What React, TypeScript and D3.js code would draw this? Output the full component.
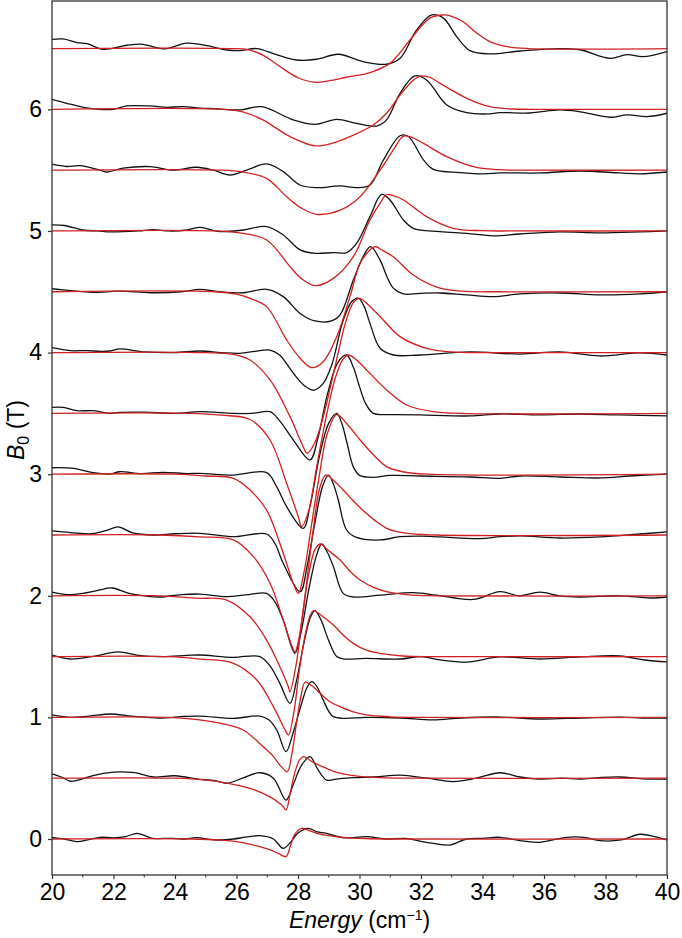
import React, { useEffect, useRef } from 'react'
import * as d3 from 'd3'

// magnetic field of each trace (T), also the vertical offset
const fields = [0, 0.5, 1, 1.5, 2, 2.5, 3, 3.5, 4, 4.5, 5, 5.5, 6, 6.5]

const xTicks = [20, 22, 24, 26, 28, 30, 32, 34, 36, 38, 40]
const yTicks = [0, 1, 2, 3, 4, 5, 6]

// fitted curves (red): [energy, deviation from offset]
const red0 = [[20, 0], [24.5, 0], [25.5, -0.01], [26.2, -0.03], [26.76, -0.063], [27.1, -0.09], [27.36, -0.118], [27.61, -0.145], [27.75, -0.06], [27.9, 0.04], [28.12, 0.088], [28.4, 0.065], [28.61, 0.047], [29.0, 0.028], [29.47, 0.014], [30.2, 0.004], [31, 0], [40, 0]]
const red05 = [[20, 0], [24, 0], [25, -0.015], [25.7, -0.04], [26.44, -0.084], [27.09, -0.153], [27.47, -0.22], [27.61, -0.26], [27.75, -0.12], [27.9, 0.05], [28.05, 0.15], [28.17, 0.177], [28.5, 0.13], [28.93, 0.08], [29.3, 0.045], [29.69, 0.026], [30.5, 0.006], [31.5, 0], [40, 0]]
const red1 = [[20, 0], [23.8, 0], [24.8, -0.02], [25.6, -0.055], [26.22, -0.104], [26.87, -0.241], [27.2, -0.32], [27.41, -0.392], [27.65, -0.446], [27.8, -0.3], [27.95, -0.05], [28.1, 0.18], [28.23, 0.289], [28.45, 0.26], [28.72, 0.198], [29.0, 0.135], [29.37, 0.088], [29.8, 0.045], [30.23, 0.02], [31.0, 0.005], [32, 0], [40, 0]]
const red15 = [[20, 0], [23.8, 0], [24.8, -0.02], [25.9, -0.055], [26.66, -0.192], [27.2, -0.411], [27.58, -0.603], [27.69, -0.645], [27.87, -0.45], [28.05, -0.1], [28.25, 0.2], [28.4, 0.34], [28.5, 0.378], [28.75, 0.34], [29.15, 0.259], [29.5, 0.17], [29.8, 0.109], [30.2, 0.055], [30.67, 0.027], [31.4, 0.005], [32.5, 0], [40, 0]]
const red2 = [[20, 0], [23.5, 0], [24.7, -0.02], [25.68, -0.035], [26.44, -0.173], [26.98, -0.364], [27.41, -0.583], [27.69, -0.75], [27.74, -0.79], [27.95, -0.55], [28.15, -0.15], [28.35, 0.18], [28.55, 0.38], [28.72, 0.426], [29.0, 0.37], [29.37, 0.294], [29.7, 0.2], [30.02, 0.13], [30.5, 0.065], [30.88, 0.034], [31.6, 0.008], [32.5, 0], [40, 0]]
const red25 = [[20, 0], [23.5, 0], [24.8, -0.015], [25.9, -0.04], [26.55, -0.178], [27.09, -0.397], [27.52, -0.7], [27.79, -0.905], [27.9, -0.96], [28.1, -0.75], [28.3, -0.35], [28.5, 0.05], [28.7, 0.38], [28.9, 0.493], [29.15, 0.45], [29.47, 0.37], [29.8, 0.28], [30.1, 0.206], [30.5, 0.12], [30.88, 0.055], [31.5, 0.015], [32.5, 0], [40, 0]]
const red3 = [[20, 0], [24, 0], [25.0, -0.015], [25.9, -0.034], [26.44, -0.13], [26.98, -0.295], [27.52, -0.65], [27.85, -0.9], [28.01, -0.98], [28.2, -0.8], [28.45, -0.4], [28.7, 0.0], [28.95, 0.33], [29.26, 0.49], [29.6, 0.41], [30.02, 0.281], [30.45, 0.16], [30.88, 0.062], [31.4, 0.02], [32.2, 0], [40, 0]]
const red35 = [[20, 0], [24.5, 0], [25.5, -0.015], [26.44, -0.05], [27.09, -0.219], [27.63, -0.575], [28.01, -0.85], [28.12, -0.93], [28.35, -0.8], [28.6, -0.45], [28.9, -0.05], [29.2, 0.28], [29.45, 0.44], [29.64, 0.48], [29.9, 0.44], [30.23, 0.357], [30.88, 0.193], [31.53, 0.069], [32.4, 0.014], [33.2, 0], [40, 0]]
const red4 = [[20, 0], [25.0, 0], [25.9, -0.015], [26.44, -0.061], [27.09, -0.225], [27.74, -0.527], [28.12, -0.746], [28.3, -0.828], [28.55, -0.74], [28.85, -0.5], [29.2, -0.12], [29.55, 0.25], [29.8, 0.41], [30.0, 0.446], [30.3, 0.39], [30.67, 0.296], [31.32, 0.131], [32.18, 0.035], [33.0, 0.005], [34, 0], [40, 0]]
const red45 = [[20, 0], [25.3, 0], [26.0, -0.02], [26.5, -0.06], [26.98, -0.122], [27.63, -0.396], [28.07, -0.547], [28.44, -0.624], [28.82, -0.575], [29.26, -0.369], [29.69, -0.04], [30.02, 0.234], [30.34, 0.344], [30.5, 0.372], [30.75, 0.34], [31.1, 0.288], [31.75, 0.138], [32.62, 0.029], [33.5, 0.003], [34.5, 0], [40, 0]]
const red5 = [[20, 0], [25.4, 0], [26.1, -0.015], [26.98, -0.074], [27.74, -0.293], [28.1, -0.39], [28.55, -0.45], [29.15, -0.39], [29.8, -0.211], [30.34, 0.09], [30.67, 0.228], [30.88, 0.30], [31.1, 0.29], [31.43, 0.255], [32.18, 0.118], [33.05, 0.022], [34.0, 0.002], [35, 0], [40, 0]]
const red55 = [[20, 0], [25.5, 0], [26.2, -0.015], [26.98, -0.067], [27.63, -0.218], [28.1, -0.31], [28.61, -0.363], [29.37, -0.329], [30.02, -0.218], [30.67, 0], [31.1, 0.166], [31.43, 0.28], [31.7, 0.27], [32.08, 0.22], [32.84, 0.111], [33.7, 0.029], [34.5, 0.004], [35.5, 0], [40, 0]]
const red6 = [[20, 0], [25.6, 0], [26.2, -0.02], [26.86, -0.087], [27.74, -0.224], [28.55, -0.30], [29.1, -0.28], [29.69, -0.224], [30.45, -0.128], [30.88, -0.032], [31.32, 0.118], [31.75, 0.24], [32.0, 0.275], [32.3, 0.262], [32.62, 0.214], [33.49, 0.091], [34.24, 0.022], [35.0, 0.003], [36, 0], [40, 0]]
const red65 = [[20, 0], [25.8, 0], [26.4, -0.01], [26.9, -0.06], [27.41, -0.148], [28.0, -0.24], [28.55, -0.277], [29.0, -0.265], [29.58, -0.236], [30.34, -0.198], [31.0, -0.12], [31.3, -0.04], [31.64, 0.07], [32.29, 0.25], [32.72, 0.276], [33.0, 0.265], [33.37, 0.22], [33.8, 0.13], [34.24, 0.057], [34.8, 0.015], [35.5, 0], [40, 0]]

// measured spectra (black): [energy, deviation from offset]
const blk0 = [[20, 0.014], [20.4, 0.0], [20.81, -0.022], [21.2, -0.005], [21.56, 0.014], [22.0, 0.01], [22.4, 0.02], [22.76, 0.047], [23.1, 0.02], [23.28, 0.006], [23.9, 0.005], [24.3, 0.0], [24.7, 0.011], [25.33, -0.008], [25.9, 0.0], [26.3, 0.015], [26.76, 0.027], [27.2, 0.0], [27.52, -0.077], [27.75, -0.03], [28.0, 0.05], [28.34, 0.088], [28.6, 0.06], [28.93, 0.047], [29.5, 0.01], [30.23, 0.019], [30.9, 0], [31.5, 0.005], [32.0, -0.02], [32.4, -0.036], [32.94, -0.05], [33.48, 0.0], [34.0, 0.005], [34.57, 0.014], [35.3, -0.016], [35.87, -0.027], [36.73, 0.014], [37.3, 0.014], [37.82, -0.014], [38.5, -0.008], [39.12, 0.039], [39.6, 0.02], [40, -0.008]]
const blk05 = [[20, 0.035], [20.3, 0.01], [20.6, -0.025], [21.0, -0.005], [21.3, 0.02], [22.0, 0.05], [22.7, 0.045], [23.3, 0.01], [24.0, 0.02], [24.81, -0.01], [25.3, -0.02], [25.68, -0.042], [26.2, 0.0], [26.76, 0.045], [27.2, 0.0], [27.61, -0.18], [27.85, -0.05], [28.1, 0.1], [28.39, 0.177], [28.65, 0.07], [28.93, -0.015], [29.3, -0.005], [29.8, 0.005], [30.5, 0.01], [31.32, 0.026], [32.2, 0.0], [33.05, -0.028], [33.8, 0.0], [34.57, 0.045], [35.22, 0.01], [35.87, -0.007], [36.6, 0.0], [37.17, -0.007], [37.8, 0.005], [38.47, 0.01], [39.2, -0.005], [40, -0.007]]
const blk1 = [[20, 0.02], [20.6, 0.0], [21.2, 0.01], [21.9, 0.028], [22.6, 0.01], [23.5, -0.005], [24.3, 0.008], [24.81, 0.011], [25.9, -0.008], [26.76, 0.011], [27.05, -0.02], [27.31, -0.104], [27.61, -0.282], [27.85, -0.12], [28.1, 0.1], [28.3, 0.25], [28.45, 0.294], [28.6, 0.26], [28.82, 0.143], [29.0, 0.05], [29.15, 0.006], [29.5, -0.008], [30.2, 0.0], [31.32, -0.005], [32.4, -0.021], [33.3, -0.005], [34.57, 0.003], [35.87, -0.013], [37.17, -0.005], [38.47, 0.003], [39.3, -0.005], [40, -0.005]]
const blk15 = [[20, 0.013], [20.6, -0.02], [21.3, 0.0], [22.15, 0.038], [22.8, 0.01], [23.6, 0.0], [24.4, 0.01], [24.81, 0.013], [25.9, -0.006], [26.76, 0.0], [27.1, -0.08], [27.41, -0.22], [27.74, -0.384], [27.95, -0.2], [28.2, 0.12], [28.4, 0.32], [28.55, 0.378], [28.75, 0.3], [28.99, 0.137], [29.26, 0.0], [29.5, -0.02], [30.2, -0.015], [31.32, -0.02], [32.0, 0.0], [32.62, -0.027], [33.5, -0.045], [34.57, -0.003], [35.87, -0.02], [37.17, -0.003], [38.47, 0.005], [39.28, -0.028], [40, -0.044]]
const blk2 = [[20, 0.03], [20.5, 0.01], [21.0, 0.02], [21.5, 0.045], [21.95, 0.064], [22.5, 0.02], [23.0, 0.0], [23.5, -0.01], [24.2, 0.01], [24.81, 0.014], [25.68, -0.007], [26.4, 0.01], [26.98, 0.02], [27.25, -0.05], [27.52, -0.2], [27.9, -0.473], [28.1, -0.3], [28.35, 0.05], [28.6, 0.33], [28.77, 0.426], [28.95, 0.36], [29.15, 0.24], [29.47, 0.02], [29.8, -0.01], [30.67, 0.005], [31.75, 0.026], [32.5, 0.005], [33.7, -0.03], [34.57, 0.034], [35.2, 0.0], [35.87, 0.03], [36.5, 0.0], [37.17, -0.01], [38.47, 0.0], [39.45, -0.018], [40, -0.01]]
const blk25 = [[20, 0.033], [20.6, 0.02], [21.3, 0.01], [21.8, 0.04], [22.15, 0.066], [22.6, 0.02], [23.3, 0.0], [24.0, 0.01], [24.81, 0.014], [25.9, -0.014], [26.98, 0.008], [27.25, -0.07], [27.52, -0.233], [28.07, -0.466], [28.3, -0.25], [28.55, 0.1], [28.8, 0.4], [28.99, 0.493], [29.15, 0.42], [29.31, 0.288], [29.58, 0.041], [29.9, -0.02], [30.67, -0.041], [31.32, -0.014], [32.0, -0.01], [32.62, -0.016], [33.92, -0.03], [34.57, -0.014], [35.22, -0.008], [36.52, -0.025], [37.82, -0.016], [39.12, 0.008], [40, 0.025]]
const blk3 = [[20, 0.053], [20.7, 0.048], [21.33, 0.013], [21.89, 0.002], [22.2, 0.02], [22.9, 0.005], [23.6, 0.015], [24.4, 0.005], [24.81, 0.007], [25.9, -0.007], [26.98, 0.013], [27.3, -0.1], [27.63, -0.267], [28.17, -0.445], [28.4, -0.25], [28.7, 0.15], [29.0, 0.42], [29.26, 0.5], [29.42, 0.42], [29.6, 0.25], [29.8, 0.06], [30.0, -0.01], [30.45, -0.026], [31.0, -0.01], [31.97, -0.015], [33.59, -0.023], [34.57, -0.034], [35.22, -0.015], [36.52, -0.023], [37.82, -0.031], [38.8, -0.015], [40, 0]]
const blk35 = [[20, 0.05], [20.36, 0.05], [20.81, 0.022], [21.35, 0.022], [21.89, 0.0], [22.2, 0.008], [23.0, 0.01], [24.0, 0.0], [24.81, 0.014], [25.9, 0.0], [26.5, 0.0], [27.09, 0.014], [27.4, -0.06], [27.85, -0.22], [28.39, -0.383], [28.65, -0.2], [28.95, 0.15], [29.3, 0.42], [29.58, 0.48], [29.8, 0.38], [30.0, 0.22], [30.2, 0.08], [30.45, 0.0], [30.78, -0.01], [31.2, -0.01], [31.97, -0.013], [33.59, -0.021], [34.57, -0.005], [35.87, -0.013], [37.17, -0.005], [38.47, -0.013], [40, -0.021]]
const blk4 = [[20, 0.04], [20.59, 0.016], [21.14, 0.016], [21.6, 0.01], [21.89, 0.013], [22.2, 0.03], [23.0, 0.005], [24.0, 0.0], [24.81, 0.013], [25.5, 0.0], [26.11, -0.006], [26.6, 0.01], [27.09, 0.021], [27.4, -0.02], [27.85, -0.17], [28.2, -0.27], [28.5, -0.31], [28.8, -0.26], [29.1, -0.1], [29.45, 0.25], [29.75, 0.42], [29.96, 0.447], [30.15, 0.38], [30.34, 0.24], [30.67, 0.035], [31.1, -0.02], [31.97, -0.02], [33.59, 0.005], [35.22, -0.012], [36.52, 0.005], [37.82, -0.028], [39.12, -0.003], [40, -0.02]]
const blk45 = [[20, 0.025], [20.6, 0.01], [21.3, -0.005], [22.2, 0.005], [23.2, -0.008], [24.2, 0.0], [24.81, 0.02], [25.46, 0.0], [26.22, -0.008], [26.98, 0.02], [27.52, -0.04], [28.07, -0.178], [28.55, -0.24], [29.09, -0.24], [29.37, -0.19], [29.8, 0.097], [30.12, 0.289], [30.36, 0.371], [30.67, 0.26], [30.9, 0.12], [31.1, 0.03], [31.43, -0.018], [31.97, -0.013], [32.62, -0.01], [33.49, -0.026], [34.35, -0.04], [35.22, -0.018], [36.52, -0.01], [37.82, -0.026], [39.12, -0.018], [40, 0]]
const blk5 = [[20, 0.05], [20.4, 0.045], [21.0, 0.008], [21.5, 0.0], [21.9, -0.008], [22.8, 0.0], [23.3, 0.01], [23.8, 0.0], [24.4, 0.008], [24.81, 0.03], [25.46, -0.005], [26.22, 0.008], [26.98, 0.036], [27.52, -0.033], [28.07, -0.156], [28.55, -0.184], [29.15, -0.178], [29.58, -0.178], [29.91, -0.1], [30.34, 0.118], [30.72, 0.30], [30.99, 0.255], [31.43, 0.09], [31.75, 0.022], [32.62, -0.005], [33.49, -0.02], [34.35, -0.04], [35.22, -0.025], [36.52, -0.008], [37.82, -0.016], [39.12, -0.008], [40, 0]]
const blk55 = [[20, 0.049], [20.48, 0.03], [20.91, 0.037], [21.56, 0.0], [21.79, -0.015], [22.31, 0.016], [23.19, 0.029], [23.93, 0.0], [24.71, 0.024], [25.25, 0.0], [25.79, -0.04], [26.33, 0.0], [26.98, 0.051], [27.52, -0.012], [28.06, -0.122], [28.61, -0.144], [29.37, -0.13], [29.91, -0.144], [30.34, -0.122], [30.78, 0.084], [31.32, 0.283], [31.59, 0.277], [32.08, 0.084], [32.4, 0.007], [33.27, -0.02], [34.03, -0.031], [34.57, -0.023], [35.87, -0.023], [37.17, -0.007], [38.47, -0.023], [39.12, -0.03], [40, -0.015]]
const blk6 = [[20, 0.083], [20.48, 0.05], [21.02, 0.017], [21.56, 0.0], [21.98, 0.0], [22.43, 0.028], [23.19, 0.028], [23.73, 0.017], [24.26, 0.022], [24.81, 0.01], [25.3, 0.005], [26.11, -0.005], [26.82, 0.022], [27.85, -0.087], [28.55, -0.123], [29.26, -0.082], [29.91, -0.115], [30.56, -0.137], [30.88, -0.087], [31.32, 0.132], [31.8, 0.275], [32.18, 0.242], [32.84, 0.036], [33.49, -0.027], [34.14, -0.038], [34.57, -0.027], [35.54, -0.03], [36.52, -0.005], [37.17, -0.02], [38.15, -0.065], [38.7, -0.045], [39.35, -0.06], [40, -0.032]]
const blk65 = [[20, 0.076], [20.36, 0.079], [20.81, 0.049], [21.14, 0.04], [21.66, -0.006], [22.44, 0.027], [22.96, 0.035], [23.61, -0.003], [24.39, 0.044], [25.04, 0.024], [25.69, -0.012], [26.11, -0.017], [26.66, 0.0], [27.3, -0.05], [27.96, -0.094], [28.61, -0.088], [29.31, -0.047], [30.12, -0.108], [30.88, -0.129], [31.32, -0.08], [31.86, 0.153], [32.35, 0.276], [32.73, 0.25], [33.16, 0.098], [33.59, -0.017], [34.24, -0.044], [35.22, -0.02], [36.52, 0.0], [37.17, -0.01], [38.15, -0.08], [38.7, -0.05], [39.22, -0.067], [40, -0.025]]

const fitCurves = [red0, red05, red1, red15, red2, red25, red3, red35, red4, red45, red5, red55, red6, red65]
const dataCurves = [blk0, blk05, blk1, blk15, blk2, blk25, blk3, blk35, blk4, blk45, blk5, blk55, blk6, blk65]

const App = () => {
  const chartRef = useRef<SVGSVGElement>(null)

  useEffect(() => {
    const left = 52, right = 667, top = 1, bottom = 875
    const font = "'Liberation Sans', Arial, sans-serif"

    const svg = d3.select(chartRef.current)
    svg.selectAll('*').remove()

    const x = d3.scaleLinear().domain([20, 40]).range([left, right])
    const y = d3.scaleLinear().domain([-0.296, 6.891]).range([bottom, top])

    svg.append('defs').append('clipPath').attr('id', 'plotclip')
      .append('rect')
      .attr('x', left).attr('y', top)
      .attr('width', right - left).attr('height', bottom - top)

    const g = svg.append('g').attr('clip-path', 'url(#plotclip)')

    fields.forEach((b, i) => {
      const line = d3.line<number[]>()
        .x(d => x(d[0]))
        .y(d => y(b + d[1]))
        .curve(d3.curveCatmullRom.alpha(0.5))

      g.append('path')
        .attr('d', line(dataCurves[i]))
        .attr('fill', 'none')
        .attr('stroke', '#111')
        .attr('stroke-width', 1.3)

      g.append('path')
        .attr('d', line(fitCurves[i]))
        .attr('fill', 'none')
        .attr('stroke', '#d21f1f')
        .attr('stroke-width', 1.3)
    })

    // x axis, major + minor ticks
    const xAxis = svg.append('g')
      .attr('transform', `translate(0,${bottom})`)
      .call(d3.axisBottom(x).tickValues(xTicks).tickSize(4).tickPadding(5).tickFormat(d3.format('d')))
    xAxis.select('.domain').remove()
    xAxis.selectAll('text').attr('font-size', 23).attr('font-family', font).attr('fill', '#000')
    xAxis.selectAll('line').attr('stroke', '#333').attr('stroke-width', 1.2)

    const minor = d3.range(21, 40, 2)
    svg.append('g').selectAll('line').data(minor).join('line')
      .attr('x1', d => x(d)).attr('x2', d => x(d))
      .attr('y1', bottom).attr('y2', bottom + 2.5)
      .attr('stroke', '#333').attr('stroke-width', 1)

    const yAxis = svg.append('g')
      .attr('transform', `translate(${left},0)`)
      .call(d3.axisLeft(y).tickValues(yTicks).tickSize(4).tickPadding(6).tickFormat(d3.format('d')))
    yAxis.select('.domain').remove()
    yAxis.selectAll('text').attr('font-size', 23).attr('font-family', font).attr('fill', '#000')
    yAxis.selectAll('line').attr('stroke', '#333').attr('stroke-width', 1.2)

    // frame
    svg.append('rect')
      .attr('x', left).attr('y', top)
      .attr('width', right - left).attr('height', bottom - top)
      .attr('fill', 'none')
      .attr('stroke', '#333')
      .attr('stroke-width', 1.3)

    // axis titles
    const xt = svg.append('text')
      .attr('x', (left + right) / 2).attr('y', 928)
      .attr('text-anchor', 'middle')
      .attr('font-family', font).attr('font-size', 23)
    xt.append('tspan').attr('font-style', 'italic').text('Energy')
    xt.append('tspan').text(' (cm')
    xt.append('tspan').attr('font-size', 14).attr('dy', -8).text('\u22121')
    xt.append('tspan').attr('dy', 8).text(')')

    const yt = svg.append('text')
      .attr('transform', `translate(24,${(top + bottom) / 2 - 8}) rotate(-90)`)
      .attr('text-anchor', 'middle')
      .attr('font-family', font).attr('font-size', 23)
    yt.append('tspan').attr('font-style', 'italic').text('B')
    yt.append('tspan').attr('font-size', 16).attr('dy', 5).text('0')
    yt.append('tspan').attr('dy', -5).text(' (T)')

    return () => {
      d3.select(chartRef.current).selectAll('*').remove()
    }
  }, [])

  return (
    <div style={{ position: 'absolute', left: 0, top: 0 }}>
      <svg ref={chartRef} width={682} height={938} style={{ display: 'block', background: '#fff' }} />
    </div>
  )
}

export default App
